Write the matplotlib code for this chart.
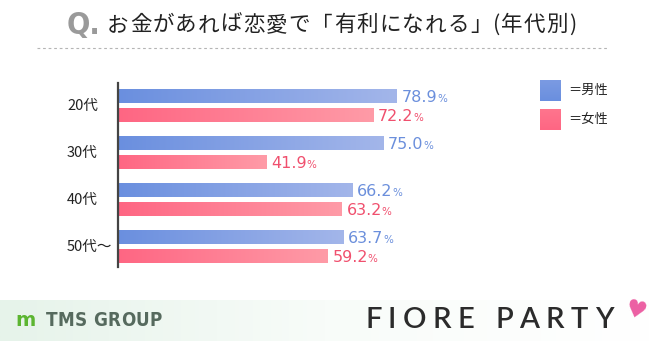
import numpy as np
import matplotlib.pyplot as plt
from matplotlib.colors import LinearSegmentedColormap

plt.rcParams['font.family'] = ['Noto Sans CJK JP', 'DejaVu Sans']

# data
ages = ['20代', '30代', '40代', '50代～']
male = [78.9, 75.0, 66.2, 63.7]
female = [72.2, 41.9, 63.2, 59.2]
title = 'お金があれば恋愛で「有利になれる」(年代別)'
legend_labels = ['＝男性', '＝女性']

male_cmap = LinearSegmentedColormap.from_list('m', ['#6a8fdf', '#a3b6ea'])
female_cmap = LinearSegmentedColormap.from_list('f', ['#fe6683', '#ff9ba7'])
male_text = '#6b8fdc'
female_text = '#f0506e'

W, H = 650, 341
fig = plt.figure(figsize=(W / 100, H / 100), dpi=100)
renderer = fig.canvas.get_renderer()


def fx(px):
    return px / W


def fy(py):
    return 1 - py / H


def spaced_text(x0, y, s, gap, **kw):
    # draw characters one by one with extra tracking (pixels)
    x = x0
    for ch in s:
        t = fig.text(fx(x), fy(y), ch, **kw)
        w = t.get_window_extent(renderer).width
        x += w + gap
    return x


# title
fig.text(fx(67), fy(25), 'Q.', color='#9a9a9a', fontsize=22, fontweight='bold',
         va='center', ha='left', family='DejaVu Sans', fontstretch='condensed')
spaced_text(107, 25, title, 1.2, color='#222222', fontsize=15.5, va='center', ha='left')
fig.add_artist(plt.Line2D([fx(37), fx(608)], [fy(48), fy(48)], color='#b5b5b5',
                          lw=0.8, ls=(0, (2.5, 2.5))))

# bar area
scale = 3.536  # px per percent
ax = fig.add_axes([fx(118), fy(267), 100 * scale / W, (267 - 83) / H])
ax.axis('off')
ax.plot([0, 0], [3.436, -0.479], color='#444444', lw=1.6, zorder=5, clip_on=False)

bh = 14 / 47
off = 9.5 / 47
grad = np.linspace(0, 1, 256).reshape(1, -1)
for i, (m, f) in enumerate(zip(male, female)):
    for val, yc, cmap, tc in [(m, i - off, male_cmap, male_text),
                              (f, i + off, female_cmap, female_text)]:
        ax.imshow(grad, cmap=cmap, aspect='auto', interpolation='bicubic',
                  extent=(0, val, yc + bh / 2, yc - bh / 2), zorder=2)
        t = ax.text(val + 1.4, yc + 0.13, f'{val:.1f}', color=tc, fontsize=11.5,
                    va='baseline', ha='left', family='DejaVu Sans')
        ax.annotate('%', xy=(val, yc + 0.13), xycoords='data',
                    xytext=(t.get_window_extent(renderer).width + 5.0, 0),
                    textcoords='offset pixels', color=tc, fontsize=7.5,
                    va='baseline', ha='left', family='DejaVu Sans')
    fig.text(fx(67), fy(105.5 + 47 * i), ages[i], fontsize=10.5, color='#222222',
             va='center', ha='left')
ax.set_xlim(0, 100)
ax.set_ylim(3.436, -0.479)

# legend
for k, (lab, cmap) in enumerate(zip(legend_labels, [male_cmap, female_cmap])):
    y0 = 80 + 29 * k
    lax = fig.add_axes([fx(540), fy(y0 + 21), fx(21), 21 / H])
    lax.imshow(np.linspace(0.3, 0, 64).reshape(-1, 1), cmap=cmap, aspect='auto',
               vmin=0, vmax=1)
    lax.axis('off')
    fig.text(fx(568), fy(y0 + 10.5), lab, fontsize=9.5, color='#222222',
             va='center', ha='left')

# footer band
fax = fig.add_axes([0, 0, 1, fy(300)])
fax.imshow(np.linspace(0, 1, 256).reshape(1, -1), aspect='auto',
           cmap=LinearSegmentedColormap.from_list('g', ['#e6f3ea', '#f8fcf9', '#ffffff']),
           extent=(0, 1, 0, 1))
fax.set_xlim(0, 1)
fax.set_ylim(0, 1)
fax.axis('off')
fig.text(fx(15), fy(321), 'm', color='#5cb531', fontsize=14, fontweight='bold',
         va='center', ha='left', family='DejaVu Sans')
spaced_text(46, 321, 'TMS GROUP', 0.3, color='#566a5e', fontsize=13.5,
            fontweight='bold', va='center', ha='left', family='DejaVu Sans',
            fontstretch='condensed')
spaced_text(365, 320, 'FIORE PARTY', 6.5, color='#2b2b2b', fontsize=21,
            fontweight='semibold', va='center', ha='left', family=['Lato', 'DejaVu Sans'])
fig.text(fx(623), fy(311), '♥', color='#ec5fa3', fontsize=17, va='center',
         ha='left', family='DejaVu Sans', rotation=-15)

fig.savefig('out.png', dpi=100)
